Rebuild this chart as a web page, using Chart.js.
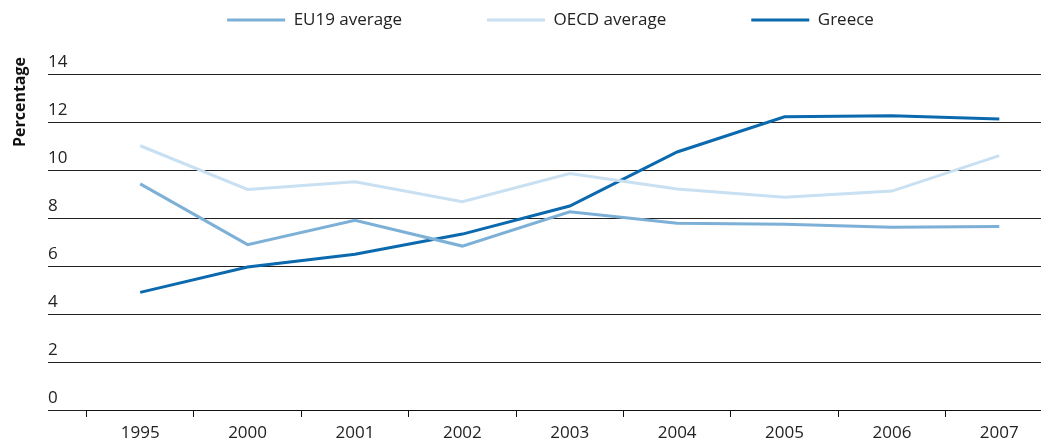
<!DOCTYPE html>
<html>
<head>
<meta charset="utf-8">
<script src="https://cdn.jsdelivr.net/npm/chart.js@4"></script>
<style>
  html, body { margin: 0; padding: 0; background: #fff; overflow: hidden; }
  #wrap { width: 1053px; height: 442px; position: relative; }
</style>
</head>
<body>
<div id="wrap"><canvas id="myChart"></canvas></div>
<script>
const years = ['1995', '2000', '2001', '2002', '2003', '2004', '2005', '2006', '2007'];
const eu19 = [9.42, 6.89, 7.90, 6.83, 8.26, 7.78, 7.74, 7.61, 7.65];
const oecd = [11.01, 9.19, 9.51, 8.68, 9.85, 9.21, 8.86, 9.12, 10.6];
const greece = [4.90, 5.96, 6.49, 7.33, 8.50, 10.75, 12.22, 12.26, 12.12];
const yTicks = [0, 2, 4, 6, 8, 10, 12, 14];

const FONT = "'Open Sans', 'DejaVu Sans', sans-serif";

// legend padding is also the gap between items, so the legend box starts
// above the canvas and gets stretched down to the top gridline
const legendGap = 85;
const topPad = 11.5 - legendGap;
const legendSpace = {
  id: 'legendSpace',
  beforeInit(chart) {
    const fit = chart.legend.fit;
    chart.legend.fit = function () {
      fit.bind(chart.legend)();
      this.height = 74 - topPad;
    };
  }
};

// rotated axis title, sitting up near the top of the axis
const yTitle = {
  id: 'yTitle',
  afterDraw(chart) {
    const c = chart.ctx;
    c.save();
    c.translate(20, chart.chartArea.top + 28);
    c.rotate(-Math.PI / 2);
    c.font = "bold 16px " + FONT;
    c.fillStyle = '#111';
    c.textAlign = 'center';
    c.textBaseline = 'middle';
    c.fillText('Percentage', 0, 0);
    c.restore();
  }
};

const ctx = document.getElementById('myChart');
new Chart(ctx, {
  type: 'line',
  data: {
    labels: years,
    datasets: [
      { label: 'EU19 average', data: eu19, borderColor: '#7db0d6', backgroundColor: '#7db0d6', borderWidth: 3 },
      { label: 'OECD average', data: oecd, borderColor: '#c8e0f1', backgroundColor: '#c8e0f1', borderWidth: 3 },
      { label: 'Greece', data: greece, borderColor: '#0b69ae', backgroundColor: '#0b69ae', borderWidth: 3 }
    ]
  },
  options: {
    responsive: true,
    maintainAspectRatio: false,
    animation: false,
    layout: { padding: { left: 48, right: 0, top: topPad, bottom: 0 } },
    elements: {
      point: { radius: 0, hoverRadius: 0 },
      line: { tension: 0 }
    },
    plugins: {
      tooltip: { enabled: false },
      legend: {
        position: 'top',
        labels: {
          usePointStyle: true,
          pointStyle: 'line',
          pointStyleWidth: 58,
          padding: legendGap,
          color: '#222',
          font: { family: FONT, size: 17 }
        }
      }
    },
    scales: {
      x: {
        offset: true,
        grid: { offset: true, drawOnChartArea: false, drawTicks: true, tickLength: 7, color: '#111' },
        border: { display: true, color: '#111', width: 1 },
        ticks: { color: '#222', padding: 6, font: { family: FONT, size: 17 } },
        afterFit(scale) { scale.height = 32; }
      },
      y: {
        min: 0,
        max: 14,
        afterBuildTicks(scale) { scale.ticks = yTicks.map(v => ({ value: v })); },
        grid: { color: '#222', lineWidth: 1, drawTicks: true, tickLength: 38.5 },
        border: { display: false },
        ticks: {
          crossAlign: 'far',
          labelOffset: -12,
          color: '#222',
          font: { family: FONT, size: 17 }
        },
        afterFit(scale) { scale.width = 38.5; }
      }
    }
  },
  plugins: [legendSpace, yTitle]
});
</script>
</body>
</html>
